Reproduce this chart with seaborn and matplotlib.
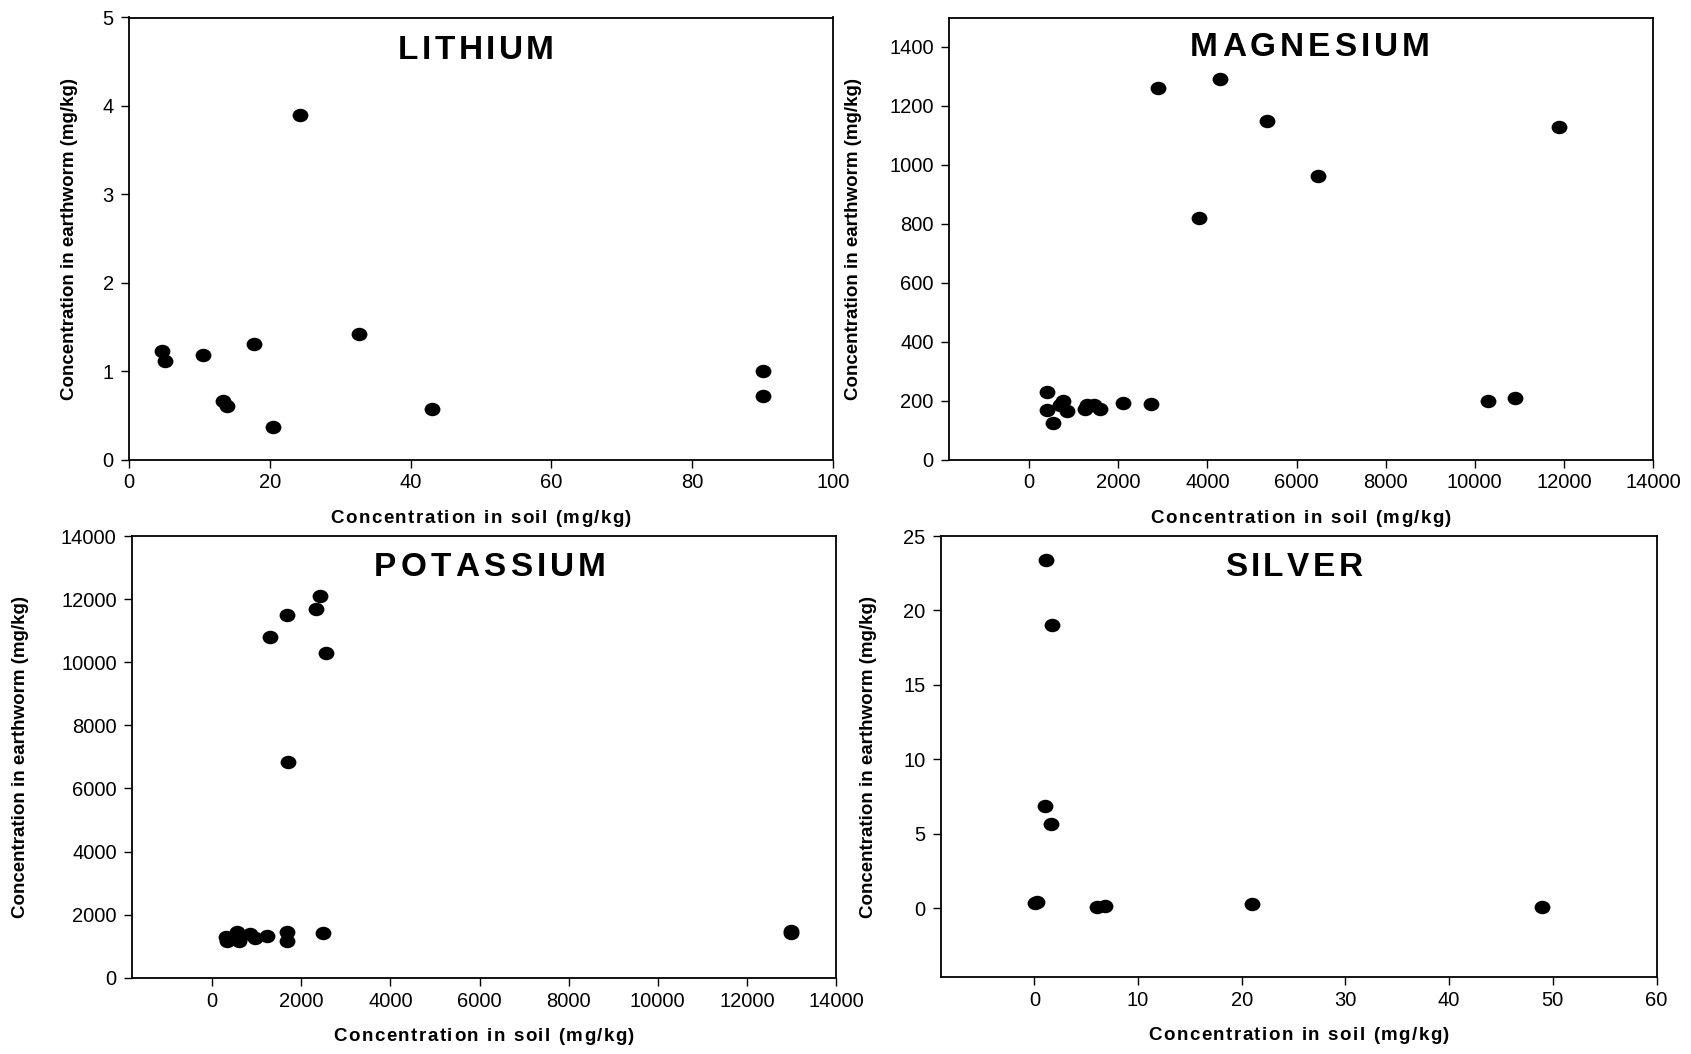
import numpy as np
import pandas as pd
import matplotlib
matplotlib.use("Agg")
import matplotlib.pyplot as plt
from matplotlib.path import Path
from matplotlib.font_manager import FontProperties
import seaborn as sns

# ---------------- data ----------------
li_soil = [4.7, 5.1, 10.5, 17.7, 32.7, 24.3, 13.3, 13.9, 20.5, 43.1, 90.0, 90.0]
li_worm = [1.23, 1.11, 1.18, 1.31, 1.42, 3.90, 0.66, 0.60, 0.37, 0.57, 1.00, 0.72]

mg_soil = [410, 410, 545, 700, 760, 850, 1250, 1300, 1450, 1580, 2100, 2735,
           2880, 4280, 5340, 6480, 3820, 11900, 10300, 10900]
mg_worm = [230, 169, 125, 186, 200, 163, 172, 186, 184, 170, 192, 189,
           1260, 1290, 1150, 962, 820, 1130, 200, 210]

k_soil = [300, 330, 560, 600, 850, 950, 1220, 1680, 1680, 2490,
          13000, 13000, 2430, 1670, 2340, 1300, 2550, 1690]
k_worm = [1280, 1160, 1460, 1150, 1390, 1260, 1320, 1460, 1150, 1420,
          1480, 1410, 12100, 11500, 11700, 10800, 10300, 6830]

ag_soil = [0.1, 0.3, 1.0, 1.1, 1.7, 1.6, 6.0, 6.8, 21.0, 49.0]
ag_worm = [0.40, 0.45, 6.9, 23.4, 19.0, 5.7, 0.08, 0.14, 0.27, 0.08]

titles = ["LITHIUM", "MAGNESIUM", "POTASSIUM", "SILVER"]
xlabel = "Concentration in soil (mg/kg)"
ylabel = "Concentration in earthworm (mg/kg)"

# ---------------- style ----------------
sns.set_theme(style="white")
plt.rcParams["font.family"] = ["Liberation Sans", "DejaVu Sans"]

fig = plt.figure(figsize=(16.91, 10.54), dpi=100)
W, H = 1691.0, 1054.0
renderer = fig.canvas.get_renderer()


def add_axes(left, top, right, bottom):
    return fig.add_axes([left / W, 1 - bottom / H, (right - left) / W, (bottom - top) / H])


def char_width(ch, fp):
    t1 = fig.text(0, 0, "H" + ch + "H", fontproperties=fp)
    t2 = fig.text(0, 0, "HH", fontproperties=fp)
    w = t1.get_window_extent(renderer).width - t2.get_window_extent(renderer).width
    t1.remove()
    t2.remove()
    return w


def tracked_text(ax, s, fp, target_width, dx, baseline_dy, anchor=(0.5, 1.0)):
    """Draw text char by char with letter spacing so that it spans target_width px,
    centred at dx px from the anchor (axes fraction); baseline at baseline_dy px."""
    widths = [char_width(ch, fp) for ch in s]
    track = (target_width - sum(widths)) / max(len(s) - 1, 1)
    x = dx - target_width / 2.0
    for ch, w in zip(s, widths):
        if ch != " ":
            ax.annotate(ch, xy=anchor, xycoords="axes fraction",
                        xytext=(x, baseline_dy), textcoords="offset pixels",
                        ha="left", va="baseline", fontproperties=fp,
                        color="black", annotation_clip=False)
        x += w + track


ax_li = add_axes(129, 17.5, 833, 459.5)
ax_mg = add_axes(949, 17.5, 1653, 459.5)
ax_k = add_axes(132, 536, 836, 977.7)
ax_ag = add_axes(941, 536, 1656.5, 977)

# slightly flattened ellipse marker
circ = Path.unit_circle()
ell = Path(circ.vertices * np.array([1.0, 0.85]), circ.codes)

title_fp = FontProperties(family=["Liberation Sans", "DejaVu Sans"], weight="bold", size=24)
xlab_fp = FontProperties(family=["Liberation Sans", "DejaVu Sans"], weight="bold", size=13.5)
title_cap = 0.716 * 24 * 100 / 72.0

panels = [
    # ax, x, y, xlim, xticks, ylim, yticks, ylabel x (axes frac), title centre (dx, dy), title width
    (ax_li, li_soil, li_worm, (0, 100), np.arange(0, 101, 20), (0, 5), np.arange(0, 6, 1),
     -0.084, (-5, 30), 156),
    (ax_mg, mg_soil, mg_worm, (-1800, 14000), np.arange(0, 14001, 2000), (0, 1500),
     np.arange(0, 1401, 200), -0.135, (9, 27), 240),
    (ax_k, k_soil, k_worm, (-1800, 14000), np.arange(0, 14001, 2000), (0, 14000),
     np.arange(0, 14001, 2000), -0.158, (6, 28.3), 232),
    (ax_ag, ag_soil, ag_worm, (-9, 60), np.arange(0, 61, 10), (-4.6, 25),
     np.arange(0, 26, 5), -0.102, (-5, 28.3), 138),
]

for (ax, xs, ys, xl, xt, yl, yt, ylab_x, tpos, twidth), title in zip(panels, titles):
    df = pd.DataFrame({"soil": xs, "worm": ys})
    sns.scatterplot(data=df, x="soil", y="worm", ax=ax, marker=ell, s=130,
                    color="black", edgecolor="black", linewidth=0, zorder=3)
    ax.set_xlim(*xl)
    ax.set_ylim(*yl)
    ax.set_xticks(xt)
    ax.set_yticks(yt)
    ax.set_xticklabels([str(int(v)) for v in xt])
    ax.set_yticklabels([str(int(v)) for v in yt])
    ax.tick_params(axis="both", direction="out", length=6, width=1.0, color="black",
                   labelsize=14.5, pad=4, labelcolor="black")
    ax.tick_params(axis="y", pad=5)
    ax.tick_params(top=False, right=False, bottom=True, left=True)
    for sp in ax.spines.values():
        sp.set_visible(True)
        sp.set_color("black")
        sp.set_linewidth(1.3)
    ax.set_facecolor("white")
    ax.grid(False)

    ax.set_xlabel("")
    ax.set_ylabel(ylabel, fontsize=13.5, fontweight="bold", color="black")
    ax.yaxis.set_label_coords(ylab_x, 0.5)
    ax.yaxis.label.set_va("center")

    # letter-spaced x label (centre ~57.5 px below the axes)
    tracked_text(ax, xlabel, xlab_fp, 301, 0, -63, anchor=(0.5, 0.0))

    # letter-spaced bold title inside the axes
    tracked_text(ax, title, title_fp, twidth, tpos[0], -(tpos[1] + title_cap / 2.0),
                 anchor=(0.5, 1.0))

fig.savefig("out.png", dpi=100, facecolor="white")
